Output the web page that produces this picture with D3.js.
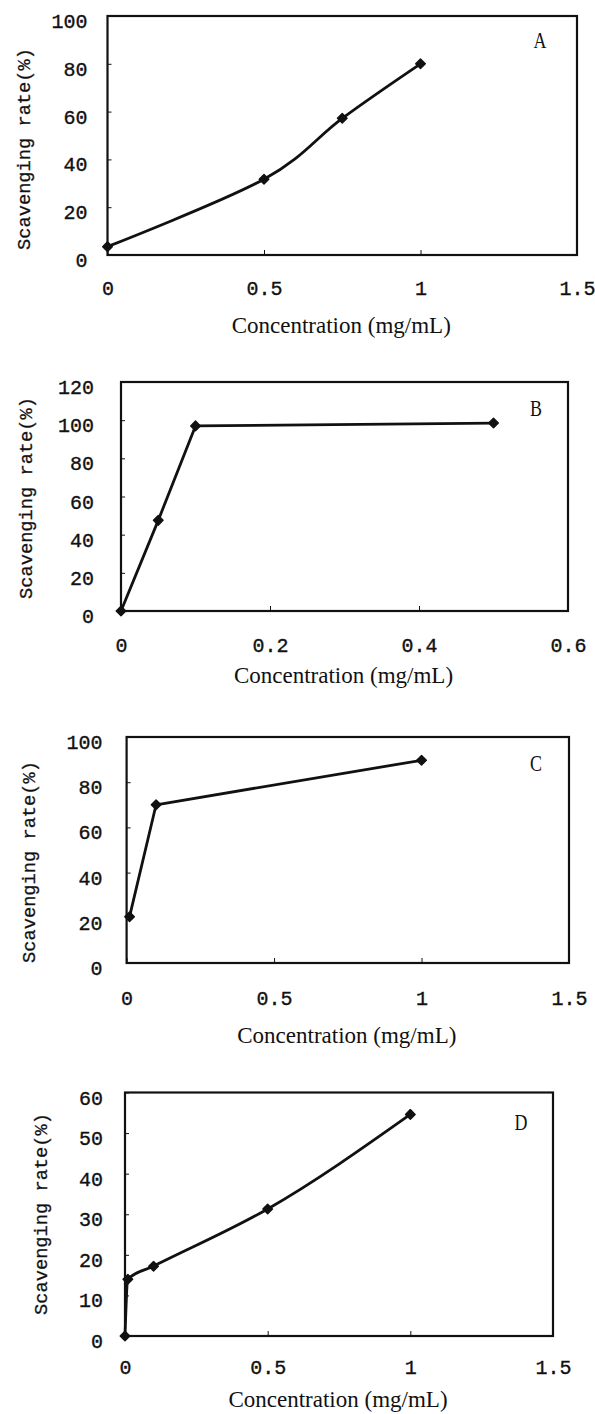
<!DOCTYPE html>
<html>
<head>
<meta charset="utf-8">
<script src="https://cdn.jsdelivr.net/npm/d3@7"></script>
<style>
  html, body { margin: 0; padding: 0; background: #fff; }
  svg { display: block; }
</style>
</head>
<body>
<svg id="chart" width="595" height="1414"></svg>
<script>
// ---------------- data ----------------
const panelLabels = ["A", "B", "C", "D"];

const concA = [0, 0.5, 0.75, 1];
const rateA = [3.5, 31.7, 57.2, 80];

const concB = [0, 0.05, 0.1, 0.5];
const rateB = [0, 47.5, 97, 98.5];

const concC = [0.01, 0.1, 1];
const rateC = [20.5, 70, 89.7];

const concD = [0, 0.01, 0.1, 0.5, 1];
const rateD = [0, 14, 17.2, 31.3, 54.6];

const xTicksA = [0, 0.5, 1, 1.5];
const xTicksB = [0, 0.2, 0.4, 0.6];
const xTicksC = [0, 0.5, 1, 1.5];
const xTicksD = [0, 0.5, 1, 1.5];

const yTicksA = [0, 20, 40, 60, 80, 100];
const yTicksB = [0, 20, 40, 60, 80, 100, 120];
const yTicksC = [0, 20, 40, 60, 80, 100];
const yTicksD = [0, 10, 20, 30, 40, 50, 60];

const xTitle = "Concentration (mg/mL)";
const yTitle = "Scavenging rate(%)";

// ---------------- layout ----------------
const panels = [
  { label: panelLabels[0], xs: concA, ys: rateA, xt: xTicksA, yt: yTicksA, curve: d3.curveCardinal.tension(0),
    l: 107.5, r: 577, t: 16, b: 255, yGap: 20, xLab: 33, xTit: 333, yTitX: 25, yTitY: 149, lab: [540, 40] },
  { label: panelLabels[1], xs: concB, ys: rateB, xt: xTicksB, yt: yTicksB, curve: d3.curveLinear,
    l: 121, r: 568, t: 382, b: 611, yGap: 27, xLab: 34, xTit: 683, yTitX: 27, yTitY: 498, lab: [536, 408] },
  { label: panelLabels[2], xs: concC, ys: rateC, xt: xTicksC, yt: yTicksC, curve: d3.curveLinear,
    l: 126.6, r: 569, t: 737, b: 963, yGap: 24, xLab: 35, xTit: 1043, yTitX: 30, yTitY: 862, lab: [536, 763] },
  { label: panelLabels[3], xs: concD, ys: rateD, xt: xTicksD, yt: yTicksD, curve: d3.curveMonotoneX,
    l: 125, r: 553, t: 1092.5, b: 1336, yGap: 22, xLab: 31, xTit: 1407, yTitX: 42, yTitY: 1214, lab: [521, 1122] }
];

const ink = "#111";
const monoFont = "'Liberation Mono', 'Courier New', Courier, monospace";
const svg = d3.select("#chart");
svg.append("rect").attr("width", 595).attr("height", 1414).attr("fill", "#fff");

const fmt = d => d3.format("")(d);

panels.forEach(p => {
  const x = d3.scaleLinear().domain([p.xt[0], p.xt[p.xt.length - 1]]).range([p.l, p.r]);
  const y = d3.scaleLinear().domain([p.yt[0], p.yt[p.yt.length - 1]]).range([p.b, p.t]);
  const g = svg.append("g");

  // x axis (inside ticks)
  const gx = g.append("g").attr("transform", `translate(0,${p.b})`)
    .call(d3.axisBottom(x).tickValues(p.xt).tickFormat(fmt).tickSizeInner(-5).tickSizeOuter(0).tickPadding(0));
  gx.select(".domain").remove();
  gx.selectAll(".tick line").attr("stroke", ink).attr("stroke-width", 1);
  gx.selectAll(".tick text")
    .attr("y", p.xLab + 6.5).attr("dy", null)
    .attr("fill", ink).attr("stroke", ink).attr("stroke-width", 0.35)
    .style("font-family", monoFont).style("font-size", "20px");

  // y axis (inside ticks)
  const gy = g.append("g").attr("transform", `translate(${p.l},0)`)
    .call(d3.axisLeft(y).tickValues(p.yt).tickFormat(fmt).tickSizeInner(-4).tickSizeOuter(0).tickPadding(0));
  gy.select(".domain").remove();
  gy.selectAll(".tick line").attr("stroke", ink).attr("stroke-width", 1);
  gy.selectAll(".tick text")
    .attr("x", -p.yGap).attr("y", 11.5).attr("dy", null)
    .attr("fill", ink).attr("stroke", ink).attr("stroke-width", 0.35)
    .style("font-family", monoFont).style("font-size", "20px");

  // frame
  g.append("rect")
    .attr("x", p.l).attr("y", p.t).attr("width", p.r - p.l).attr("height", p.b - p.t)
    .attr("fill", "none").attr("stroke", ink).attr("stroke-width", 2.2);

  // series line
  const pts = p.xs.map((v, i) => [v, p.ys[i]]);
  const line = d3.line()
    .x(d => x(d[0])).y(d => y(d[1]))
    .curve(p.curve);
  g.append("path").datum(pts)
    .attr("d", line).attr("fill", "none").attr("stroke", ink)
    .attr("stroke-width", 2.8).attr("stroke-linejoin", "round").attr("stroke-linecap", "round");

  // markers (diamonds)
  const sym = d3.symbol().type(d3.symbolSquare).size(46);
  g.selectAll(".mk").data(pts).join("path")
    .attr("class", "mk")
    .attr("d", sym)
    .attr("transform", d => `translate(${x(d[0])},${y(d[1])}) rotate(45)`)
    .attr("fill", ink).attr("stroke", ink).attr("stroke-width", 1.4).attr("stroke-linejoin", "round");

  // x title
  g.append("text")
    .attr("x", (p.l + p.r) / 2 - 1).attr("y", p.xTit)
    .attr("text-anchor", "middle").attr("fill", ink)
    .style("font-family", "'Liberation Serif', 'Times New Roman', serif").style("font-size", "23px")
    .text(xTitle);

  // y title
  g.append("text")
    .attr("transform", `translate(${p.yTitX},${p.yTitY}) rotate(-90)`)
    .attr("text-anchor", "middle").attr("dominant-baseline", "central").attr("fill", ink)
    .attr("stroke", ink).attr("stroke-width", 0.3)
    .style("font-family", monoFont).style("font-size", "18.7px")
    .text(yTitle);

  // panel letter
  g.append("text")
    .attr("transform", `translate(${p.lab[0]},${p.lab[1]}) scale(0.78,1)`)
    .attr("text-anchor", "middle").attr("dominant-baseline", "central").attr("fill", ink)
    .style("font-family", "'Liberation Serif', serif").style("font-size", "23px")
    .text(p.label);
});
</script>
</body>
</html>
